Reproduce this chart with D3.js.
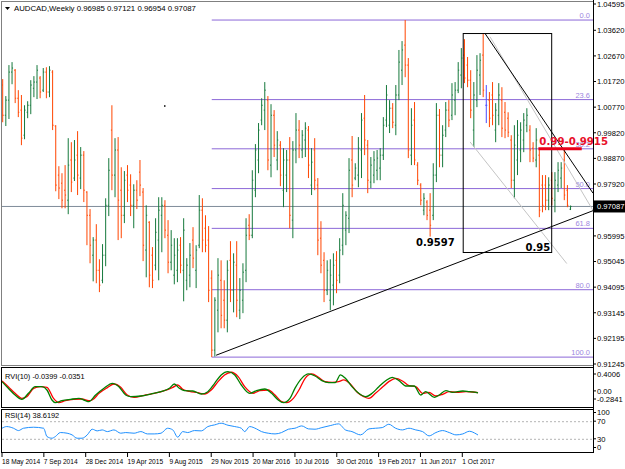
<!DOCTYPE html>
<html><head><meta charset="utf-8">
<script src="https://cdn.jsdelivr.net/npm/d3@7/dist/d3.min.js"></script>
<style>
body{margin:0;background:#fff}
svg{display:block;font-family:"Liberation Sans",Arial,sans-serif}
</style></head><body>
<svg id="chart" width="625" height="469"></svg>
<script>
// weekly AUDCAD bars, oldest first
const barHigh = [1.0181,1.0118,1.0233,1.0244,1.0218,1.0140,1.0122,1.0084,1.0099,1.0177,1.0192,1.0233,1.0192,1.0222,1.0225,1.0229,1.0214,1.0010,0.9858,0.9832,0.9862,0.9962,0.9947,0.9955,0.9988,0.9929,0.9914,0.9765,0.9699,0.9595,0.9643,0.9513,0.9569,0.9739,0.9888,1.0084,0.9962,0.9966,0.9854,0.9840,0.9862,0.9828,0.9791,0.9806,0.9881,0.9777,0.9713,0.9654,0.9558,0.9665,0.9743,0.9743,0.9732,0.9658,0.9621,0.9591,0.9591,0.9595,0.9665,0.9517,0.9573,0.9632,0.9565,0.9751,0.9739,0.9676,0.9636,0.9472,0.9372,0.9517,0.9509,0.9435,0.9509,0.9580,0.9535,0.9580,0.9443,0.9498,0.9665,0.9680,0.9843,0.9940,1.0018,1.0110,1.0170,1.0118,1.0088,1.0066,0.9988,0.9951,0.9925,0.9918,0.9966,0.9951,1.0055,1.0029,0.9992,1.0021,1.0007,0.9925,0.9962,0.9814,0.9654,0.9539,0.9509,0.9513,0.9535,0.9543,0.9591,0.9758,0.9691,0.9888,0.9970,0.9869,0.9966,1.0055,1.0122,0.9955,0.9892,0.9914,0.9918,0.9925,1.0040,1.0159,1.0103,1.0092,1.0159,1.0289,1.0322,1.0400,1.0259,1.0073,1.0096,0.9873,0.9795,0.9758,0.9732,0.9758,0.9869,1.0092,1.0070,1.0010,1.0096,1.0103,1.0166,1.0170,1.0244,1.0296,1.0329,1.0263,1.0214,1.0170,1.0270,1.0277,1.0350,1.0159,1.0133,1.0170,1.0092,1.0166,1.0151,1.0096,1.0058,0.9973,1.0010,1.0029,1.0021,1.0055,1.0073,1.0010,0.9947,0.9999,0.9918,0.9825,0.9825,0.9817,0.9836,0.9836,0.9873,0.9873,0.9925,0.9788,0.97121];
const barLow = [1.0021,1.0007,1.0033,1.0162,1.0092,1.0040,0.9936,0.9958,1.0036,1.0051,1.0114,1.0107,1.0110,1.0133,1.0110,1.0114,0.9992,0.9765,0.9736,0.9702,0.9702,0.9680,0.9762,0.9803,0.9751,0.9773,0.9725,0.9565,0.9498,0.9431,0.9424,0.9391,0.9424,0.9487,0.9673,0.9769,0.9743,0.9584,0.9591,0.9647,0.9725,0.9673,0.9628,0.9699,0.9747,0.9506,0.9446,0.9409,0.9406,0.9472,0.9435,0.9539,0.9591,0.9461,0.9472,0.9420,0.9428,0.9461,0.9357,0.9398,0.9409,0.9480,0.9406,0.9554,0.9539,0.9539,0.9354,0.9150,0.9152,0.9242,0.9257,0.9257,0.9242,0.9354,0.9316,0.9298,0.9291,0.9313,0.9428,0.9584,0.9591,0.9743,0.9832,1.0010,0.9992,0.9843,0.9817,0.9892,0.9843,0.9784,0.9706,0.9762,0.9628,0.9591,0.9869,0.9888,0.9888,0.9892,0.9814,0.9751,0.9769,0.9528,0.9461,0.9354,0.9380,0.9324,0.9342,0.9387,0.9424,0.9528,0.9565,0.9610,0.9743,0.9806,0.9780,0.9814,0.9899,0.9758,0.9777,0.9795,0.9806,0.9806,0.9881,1.0003,0.9981,0.9999,0.9973,1.0103,1.0159,1.0188,0.9888,0.9862,0.9862,0.9788,0.9713,0.9676,0.9658,0.9597,0.9658,0.9799,0.9854,0.9854,0.9966,1.0003,1.0029,1.0047,1.0129,1.0147,1.0166,1.0151,1.0036,0.9929,1.0077,1.0122,1.0114,1.0018,1.0003,1.0010,0.9947,1.0010,0.9966,0.9962,0.9966,0.9777,0.9739,0.9825,0.9873,0.9910,0.9984,0.9873,0.9873,0.9854,0.9669,0.9687,0.9695,0.9695,0.9713,0.9687,0.9762,0.9777,0.9732,0.9706,0.96954];
const barOpen = [1.0159,1.0047,1.0103,1.0207,1.0214,1.0110,1.0066,0.9973,1.0058,1.0084,1.0147,1.0170,1.0185,1.0140,1.0207,1.0133,1.0207,1.0007,0.9825,0.9795,0.9769,0.9732,0.9881,0.9814,0.9899,0.9814,0.9899,0.9762,0.9676,0.9528,0.9584,0.9472,0.9435,0.9528,0.9713,0.9992,0.9825,0.9918,0.9769,0.9676,0.9825,0.9788,0.9713,0.9769,0.9836,0.9762,0.9547,0.9650,0.9528,0.9491,0.9584,0.9676,0.9713,0.9602,0.9502,0.9454,0.9472,0.9565,0.9472,0.9435,0.9454,0.9584,0.9472,0.9565,0.9695,0.9628,0.9584,0.9443,0.9176,0.9324,0.9435,0.9361,0.9287,0.9509,0.9398,0.9491,0.9324,0.9361,0.9472,0.9639,0.9602,0.9769,0.9881,1.0029,1.0066,1.0103,0.9862,1.0047,0.9881,0.9936,0.9769,0.9825,0.9881,0.9658,0.9918,0.9992,0.9918,0.9955,0.9992,0.9788,0.9918,0.9788,0.9591,0.9509,0.9398,0.9361,0.9417,0.9509,0.9454,0.9565,0.9621,0.9665,0.9881,0.9814,0.9825,0.9918,1.0036,0.9936,0.9799,0.9825,0.9843,0.9851,0.9899,1.0029,1.0010,1.0073,1.0010,1.0122,1.0214,1.0307,1.0233,0.9899,1.0029,0.9862,0.9788,0.9695,0.9725,0.9695,0.9676,0.9825,1.0047,0.9899,0.9992,1.0066,1.0047,1.0103,1.0140,1.0196,1.0270,1.0233,1.0177,0.9992,1.0103,1.0196,1.0270,1.0084,1.0103,1.0122,0.9992,1.0047,1.0103,1.0058,1.0036,0.9955,0.9806,0.9881,0.9918,0.9955,1.0010,0.9992,0.9925,0.9881,0.9899,0.9788,0.9788,0.9732,0.9806,0.9732,0.9788,0.9814,0.9881,0.9769,0.96985];
const barClose = [1.0047,1.0103,1.0207,1.0222,1.0110,1.0058,0.9962,1.0066,1.0084,1.0159,1.0170,1.0214,1.0133,1.0207,1.0133,1.0214,1.0010,0.9788,0.9777,0.9732,0.9751,0.9862,0.9799,0.9881,0.9825,0.9899,0.9769,0.9676,0.9565,0.9584,0.9472,0.9417,0.9528,0.9713,0.9843,0.9825,0.9918,0.9732,0.9676,0.9806,0.9769,0.9713,0.9769,0.9732,0.9788,0.9565,0.9676,0.9454,0.9435,0.9613,0.9695,0.9713,0.9621,0.9502,0.9565,0.9528,0.9547,0.9491,0.9621,0.9491,0.9528,0.9517,0.9547,0.9695,0.9584,0.9565,0.9398,0.9176,0.9361,0.9454,0.9305,0.9287,0.9472,0.9398,0.9502,0.9361,0.9398,0.9465,0.9602,0.9602,0.9806,0.9918,0.9992,1.0084,1.0140,0.9881,1.0047,0.9936,0.9955,0.9825,0.9881,0.9881,0.9676,0.9918,0.9992,0.9936,0.9973,0.9999,0.9862,0.9873,0.9806,0.9584,0.9491,0.9398,0.9472,0.9454,0.9491,0.9435,0.9547,0.9713,0.9676,0.9843,0.9788,0.9851,0.9925,1.0029,0.9955,0.9806,0.9862,0.9881,0.9888,0.9899,1.0010,1.0122,1.0073,1.0021,1.0122,1.0244,1.0289,1.0233,0.9918,1.0010,0.9881,0.9806,0.9732,0.9739,0.9676,0.9639,0.9825,1.0047,0.9899,0.9973,1.0066,1.0029,1.0122,1.0140,1.0214,1.0259,1.0185,1.0177,1.0066,1.0122,1.0214,1.0251,1.0140,1.0084,1.0036,1.0047,1.0066,1.0122,0.9999,0.9992,0.9984,0.9806,0.9936,0.9973,0.9992,1.0029,1.0047,0.9918,0.9888,0.9955,0.9695,0.9713,0.9732,0.9788,0.9739,0.9806,0.9843,0.9851,0.9751,0.9713,0.97087];

// 0.96970 sits under the last-price box, so it is not shown
const priceLabels = ["1.04595","1.03620","1.02670","1.01720","1.00770","0.99820","0.98870","0.97920","0.95995","0.95045","0.94095","0.93145","0.92195","0.91245"];
const lastPrice = 0.97087;

// fibonacci retracement
const fibHigh = 1.0400, fibLow = 0.9150, fibStartIdx = 67;
const fibLevels = [0, 23.6, 38.2, 50, 61.8, 80, 100];

// drawing objects: [bar index, price]
const trendUp = [[68.4, 0.9157], [189.2, 0.9693]];
const trendDown = [[154.6, 1.0350], [189.2, 0.9758]];
const channelA = [[149.8, 0.9948], [180.8, 0.9497]];
const channelB = [[156.2, 1.0338], [191.4, 0.9651]];
const boxIdx = [147.6, 175.96], boxPrice = [1.0350, 0.9538];
const noteText = ["0.9597", "0.95", "0.99-0.9915"];
const noteIdx = [132.5, 167.6, 172];
const notePrice = [0.9563, 0.9545, 0.9936];
const zoneIdx = [171.7, 185.6], zonePrice = 0.9923;

// RVI(10): main and signal, [bar index, value]
const rviMain = [[0,0.186],[2.4,0.052],[5,-0.083],[7.6,-0.170],[10.1,-0.049],[12.7,0.085],[15.3,0.085],[17.2,0.018],[19.1,-0.183],[20.4,-0.237],[22.9,-0.197],[26.2,-0.170],[29.4,-0.150],[31.9,-0.197],[33.2,-0.217],[35.8,-0.083],[39,0.052],[42.2,0.153],[44.7,0.085],[47.3,-0.083],[49.2,-0.116],[53.1,-0.103],[56.9,-0.063],[60.8,-0.016],[64,0.052],[65.9,0.139],[67.8,0.052],[69.7,0.005],[73,-0.002],[76.2,-0.063],[78.7,-0.016],[81.3,0.153],[83.8,0.321],[86.4,0.388],[89,0.321],[91.5,0.119],[94.7,-0.049],[97.3,0.005],[100.5,0.038],[103.1,-0.049],[105.6,-0.183],[107.6,-0.237],[110.1,-0.150],[112,0.052],[114.6,0.253],[117.2,0.341],[119.7,0.300],[122.3,0.206],[124.9,0.166],[127.4,0.166],[129.4,0.321],[131.3,0.253],[133.8,0.085],[136.4,-0.049],[139,-0.116],[141.5,-0.049],[144.1,0.085],[146.7,0.206],[149.2,0.274],[151.8,0.206],[154.4,0.099],[157.6,0.099],[160.1,-0.083],[162,-0.016],[165.3,-0.130],[167.2,-0.083],[169.7,0.005],[172.3,-0.029],[176.2,-0.002],[178.7,-0.016],[181.3,-0.029],[182,-0.0399]];
const rviSignal = [[0,0.200],[2.4,0.085],[5,-0.049],[7.6,-0.150],[9.5,-0.116],[12.1,0.052],[14.6,0.085],[17.2,0.072],[19.7,-0.150],[21.7,-0.237],[24.2,-0.197],[27.4,-0.170],[30.6,-0.163],[33.2,-0.197],[34.5,-0.183],[37.1,-0.049],[40.3,0.065],[42.8,0.139],[45.4,0.072],[47.9,-0.083],[50.5,-0.130],[54.4,-0.089],[58.2,-0.049],[62.1,0.005],[65.3,0.072],[67.2,0.119],[69.1,0.032],[71.7,-0.009],[74.9,-0.036],[77.4,-0.063],[80,0.018],[82.6,0.186],[85.1,0.321],[87.7,0.375],[90.3,0.287],[92.8,0.085],[96,-0.049],[98.5,0.005],[101.8,0.018],[104.4,-0.083],[106.9,-0.217],[108.8,-0.237],[111.4,-0.150],[113.9,0.052],[115.9,0.253],[118.5,0.341],[121,0.274],[123.6,0.186],[126.2,0.173],[128.7,0.186],[130.6,0.220],[133.2,0.139],[135.8,-0.029],[138.3,-0.116],[140.3,-0.150],[142.8,-0.049],[145.4,0.072],[147.9,0.186],[150.5,0.253],[153.1,0.200],[155.6,0.105],[158.2,0.085],[160.8,-0.049],[163.3,-0.029],[165.9,-0.103],[168.5,-0.069],[171,-0.016],[173.6,-0.029],[177.4,-0.016],[180,-0.022],[182,-0.0351]];
const rviMax = 0.4006, rviMin = -0.2841;

// RSI(14), [bar index, value]
const rsi = [[0,54],[1.8,57.8],[4.4,54],[6.3,48.7],[8.2,54],[12.1,56.3],[15.9,54],[17.2,35.1],[19.1,31.3],[20.4,35.1],[22.3,44.2],[24.9,42.7],[26.8,38.9],[28.7,31.3],[30.6,31.3],[32.6,38.9],[34.5,51.8],[36.4,48],[38.3,50.2],[40.3,46.4],[42.8,50.2],[45.4,42.7],[47.3,44.2],[50.5,42.7],[53.1,46.4],[55.6,41.1],[58.2,41.1],[60.8,42.7],[63.3,54],[65.3,50.2],[67.2,33.6],[69.1,46.4],[71,44.2],[73.6,48.7],[76.2,48],[78.7,57.8],[81.3,61.6],[83.8,65.4],[86.4,60.8],[89,57.8],[91.5,54],[92.8,46.4],[94.7,57.8],[97.3,52.5],[99.2,46.4],[101.8,42.7],[104.4,41.1],[106.9,44.2],[109.5,51.8],[112,54],[114.6,59.3],[117.2,52.5],[119.7,51.8],[122.3,55.5],[125.5,60],[128.7,63.9],[131.3,50.2],[133.8,46.4],[137.1,38.9],[140.3,52.5],[142.8,54],[145.4,55.5],[147.9,63.1],[150.5,54],[153.1,50.2],[155.6,54],[158.2,50.2],[160.8,46.4],[163.3,36.6],[165.9,44.2],[168.5,48.7],[171,44.2],[173.6,38.9],[176.2,41.1],[178.7,47.1],[181.3,41.1],[182,38.6192]];
const rsiLevels = [70, 30];
const rsiLabels = [100, 70, 30, 0];

const dateLabels = ["18 May 2014","7 Sep 2014","28 Dec 2014","19 Apr 2015","9 Aug 2015","29 Nov 2015","20 Mar 2016","10 Jul 2016","30 Oct 2016","19 Feb 2017","11 Jun 2017","1 Oct 2017"];
const dateIdx = [0,16,32,48,64,80,96,112,128,144,160,176];

const svg = d3.select("#chart");
const W = 625, axisX = 593;
const bullCol = "#16793c", bearCol = "#ff4500", dojiCol = "#4a4aff";
const fibCol = "#8c68d8";

const xMain = d3.scaleLinear().domain([0, 189.2]).range([2.7, axisX]);
const yMain = d3.scaleLinear().domain([0.91245, 1.04595]).range([364, 4]);
const xInd = d3.scaleLinear().domain([0, 182]).range([2, 478]);
const yRvi = d3.scaleLinear().domain([rviMin, rviMax]).range([405, 371]);
const yRsi = d3.scaleLinear().domain([0, 100]).range([452, 408]);

svg.append("rect").attr("width", W).attr("height", 469).attr("fill", "#fff");

const defs = svg.append("defs");
defs.append("clipPath").attr("id", "clipMain").append("rect")
  .attr("x", 2).attr("y", 2).attr("width", axisX - 2).attr("height", 363);
defs.append("clipPath").attr("id", "clipInd").append("rect")
  .attr("x", 2).attr("y", 368).attr("width", axisX - 2).attr("height", 84);

const main = svg.append("g").attr("clip-path", "url(#clipMain)");

// current price line
main.append("line")
  .attr("x1", 0).attr("x2", axisX)
  .attr("y1", yMain(lastPrice)).attr("y2", yMain(lastPrice))
  .attr("stroke", "#7f8c99");

// fibo levels
const fibPrice = lv => fibHigh - (fibHigh - fibLow) * lv / 100;
main.selectAll(".fib").data(fibLevels).enter().append("line")
  .attr("x1", xMain(fibStartIdx)).attr("x2", axisX)
  .attr("y1", d => yMain(fibPrice(d))).attr("y2", d => yMain(fibPrice(d)))
  .attr("stroke", fibCol);
main.selectAll(".fibt").data(fibLevels).enter().append("text")
  .attr("x", axisX - 3).attr("y", d => yMain(fibPrice(d)) - 2)
  .attr("text-anchor", "end").attr("font-size", 7.5)
  .attr("fill", "#9c86e0")
  .text(d => d.toFixed(1));

// bars
const bars = barHigh.map((h, i) => ({ i, h, l: barLow[i], o: barOpen[i], c: barClose[i] }));
const colOf = d => d.c > d.o ? bullCol : d.c < d.o ? bearCol : dojiCol;
const g = main.selectAll(".bar").data(bars).enter().append("g").attr("stroke", colOf);
g.append("line")
  .attr("x1", d => xMain(d.i)).attr("x2", d => xMain(d.i))
  .attr("y1", d => yMain(d.h)).attr("y2", d => yMain(d.l));
g.append("line")
  .attr("x1", d => xMain(d.i) - 1).attr("x2", d => xMain(d.i))
  .attr("y1", d => yMain(d.o)).attr("y2", d => yMain(d.o));
g.append("line")
  .attr("x1", d => xMain(d.i)).attr("x2", d => xMain(d.i) + 1)
  .attr("y1", d => yMain(d.c)).attr("y2", d => yMain(d.c));

// trend lines and channel
const seg = (pts, col) => main.append("line")
  .attr("x1", xMain(pts[0][0])).attr("y1", yMain(pts[0][1]))
  .attr("x2", xMain(pts[1][0])).attr("y2", yMain(pts[1][1]))
  .attr("stroke", col);
seg(channelA, "#c4c4c4");
seg(channelB, "#c4c4c4");
seg(trendUp, "#000");
seg(trendDown, "#000");

main.append("rect")
  .attr("x", xMain(boxIdx[0])).attr("y", yMain(boxPrice[0]))
  .attr("width", xMain(boxIdx[1]) - xMain(boxIdx[0]))
  .attr("height", yMain(boxPrice[1]) - yMain(boxPrice[0]))
  .attr("fill", "none").attr("stroke", "#000");

main.append("rect").attr("x", xMain(51.7)).attr("y", yMain(1.0084))
  .attr("width", 1.5).attr("height", 1.5).attr("fill", "#000");

// notes
svg.append("line")
  .attr("x1", xMain(zoneIdx[0])).attr("x2", xMain(zoneIdx[1]))
  .attr("y1", yMain(zonePrice)).attr("y2", yMain(zonePrice))
  .attr("stroke", "#e8001a").attr("stroke-width", 3);
svg.selectAll(".note").data(noteText).enter().append("text")
  .attr("x", (d, i) => xMain(noteIdx[i])).attr("y", (d, i) => yMain(notePrice[i]))
  .attr("font-family", "DejaVu Sans").attr("font-weight", "bold")
  .attr("font-size", (d, i) => i === 2 ? 10.2 : 10)
  .attr("fill", (d, i) => i === 2 ? "#e8102a" : "#000")
  .text(d => d);

// indicator panes
const ind = svg.append("g").attr("clip-path", "url(#clipInd)");
const lineInd = y => d3.line().x(d => xInd(d[0])).y(d => y(d[1])).curve(d3.curveMonotoneX);
ind.append("path").datum(rviSignal).attr("d", lineInd(yRvi))
  .attr("fill", "none").attr("stroke", "#ff0000").attr("stroke-width", 1.3);
ind.append("path").datum(rviMain).attr("d", lineInd(yRvi))
  .attr("fill", "none").attr("stroke", "#008000").attr("stroke-width", 1.3);
ind.selectAll(".lvl").data(rsiLevels).enter().append("line")
  .attr("x1", 2).attr("x2", axisX)
  .attr("y1", d => yRsi(d) + 0.5).attr("y2", d => yRsi(d) + 0.5)
  .attr("stroke", "#b4b4b4").attr("stroke-dasharray", "2,2");
ind.append("path").datum(rsi).attr("d", lineInd(yRsi))
  .attr("fill", "none").attr("stroke", "#1e90ff").attr("stroke-width", 1);

// frames
const frame = svg.append("g").attr("stroke", "#000").attr("fill", "none");
frame.append("rect").attr("x", 1.5).attr("y", 1.5).attr("width", axisX - 1).attr("height", 364).attr("stroke", "#808080");
frame.append("rect").attr("x", 1.5).attr("y", 367.5).attr("width", axisX - 1).attr("height", 40);
frame.append("rect").attr("x", 1.5).attr("y", 409.5).attr("width", axisX - 1).attr("height", 43);
frame.append("line").attr("x1", axisX + 0.5).attr("x2", axisX + 0.5).attr("y1", 0).attr("y2", 453);

// price axis
const ax = svg.append("g").attr("font-size", 7.6).attr("fill", "#000");
priceLabels.forEach(t => {
  const y = yMain(+t);
  ax.append("line").attr("x1", axisX).attr("x2", axisX + 3).attr("y1", y).attr("y2", y).attr("stroke", "#000");
  ax.append("text").attr("x", axisX + 4).attr("y", y + 2.8).text(t);
});
ax.append("rect").attr("x", axisX + 1).attr("y", yMain(lastPrice) - 6).attr("width", 31).attr("height", 12).attr("fill", "#000");
ax.append("text").attr("x", axisX + 4).attr("y", yMain(lastPrice) + 2.8).attr("fill", "#fff").text(lastPrice.toFixed(5));

// indicator axis labels
const rviTicks = [[rviMax, 374], [0, yRvi(0)], [rviMin, 399]];
rviTicks.forEach(([v, y]) => {
  ax.append("line").attr("x1", axisX).attr("x2", axisX + 3).attr("y1", y).attr("y2", y).attr("stroke", "#000");
  ax.append("text").attr("x", axisX + 4).attr("y", y + 2.8).text(v === 0 ? "0.00" : v.toFixed(4));
});
rsiLabels.forEach(v => {
  const y = Math.min(Math.max(yRsi(v), 412.5), 447.5);
  ax.append("line").attr("x1", axisX).attr("x2", axisX + 3).attr("y1", y).attr("y2", y).attr("stroke", "#000");
  ax.append("text").attr("x", axisX + 4).attr("y", y + 2.8).text(v);
});

// time axis
const tx = svg.append("g").attr("font-size", 6.6);
dateLabels.forEach((t, i) => {
  const x = xInd(dateIdx[i]);
  tx.append("line").attr("x1", x).attr("x2", x).attr("y1", 453).attr("y2", 457).attr("stroke", "#000");
  tx.append("text").attr("x", x).attr("y", 464).text(t);
});

// titles
svg.append("path").attr("d", "M5,7 L10,7 L7.5,10 Z").attr("fill", "#000");
svg.append("text").attr("x", 14).attr("y", 11).attr("font-size", 7.8)
  .text("AUDCAD,Weekly  0.96985 0.97121 0.96954 0.97087");
svg.append("text").attr("x", 5).attr("y", 379).attr("font-size", 7.4).text("RVI(10) -0.0399 -0.0351");
svg.append("text").attr("x", 5).attr("y", 418).attr("font-size", 7.4).text("RSI(14) 38.6192");
</script>
</body></html>
